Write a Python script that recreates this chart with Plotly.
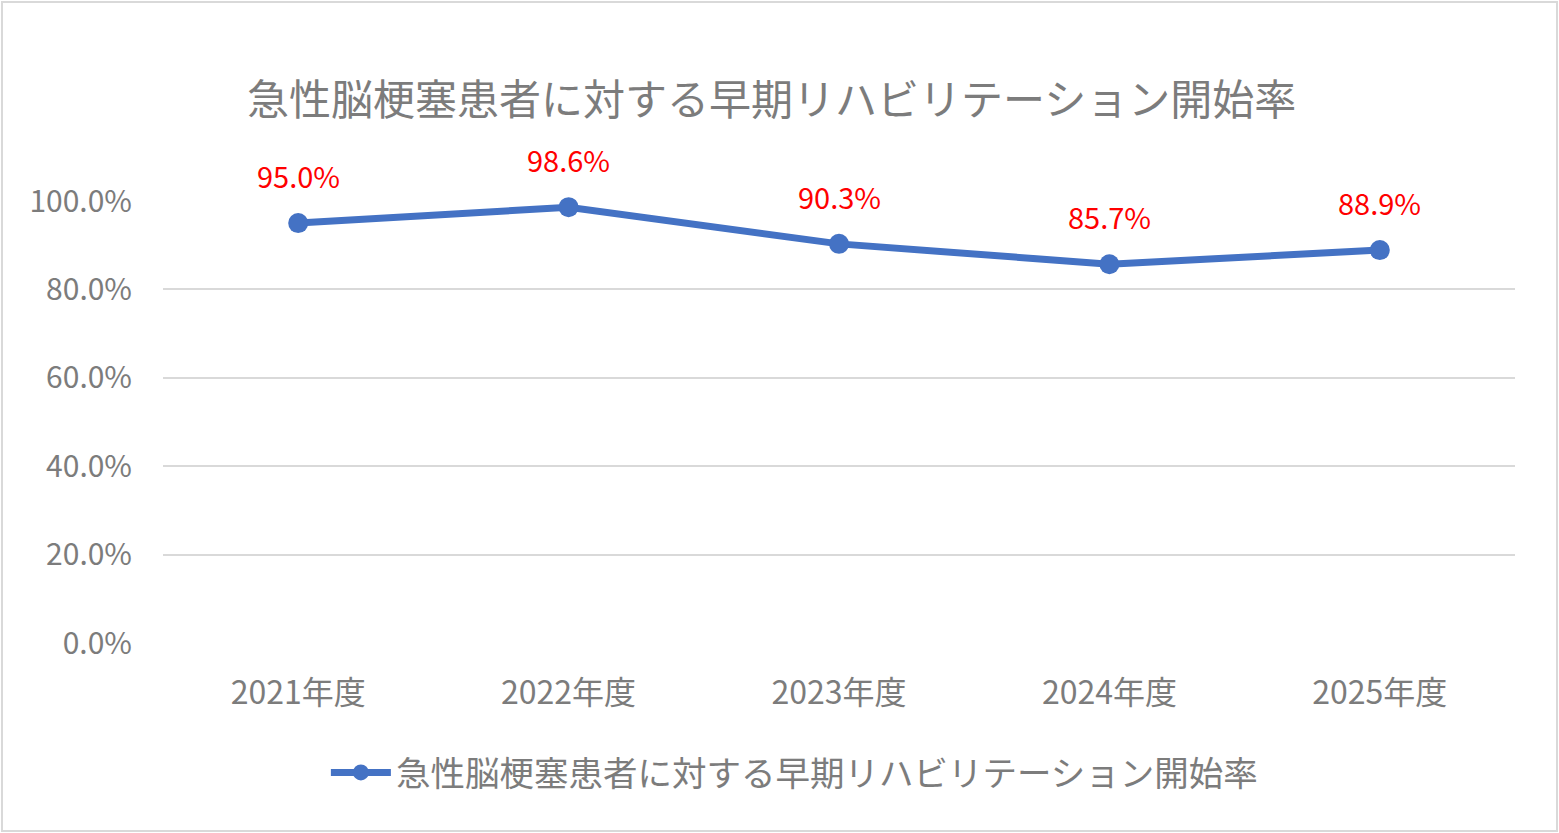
import plotly.graph_objects as go

years = ["2021年度", "2022年度", "2023年度", "2024年度", "2025年度"]
rates = [0.950, 0.986, 0.903, 0.857, 0.889]
rate_labels = ["95.0%", "98.6%", "90.3%", "85.7%", "88.9%"]

series_name = "急性脳梗塞患者に対する早期リハビリテーション開始率"
font_jp = "Noto Sans CJK JP"
grey = '#7c7c7c'

W, H = 1559, 833
L, R, T, B = 163, 44, 201, 190
pw, ph = W - L - R, H - T - B

fig = go.Figure()
fig.add_trace(go.Scatter(
    x=years, y=rates,
    mode='lines+markers',
    name=series_name,
    line=dict(color='#4472C4', width=7),
    marker=dict(color='#4472C4', size=20),
    cliponaxis=False,
))

# red data labels sit well above the points
for yr, v, lab in zip(years, rates, rate_labels):
    fig.add_annotation(x=yr, y=v, text=lab, showarrow=False, yshift=48,
                       font=dict(color='#FF0000', size=29, family=font_jp))

fig.update_layout(
    width=W, height=H,
    margin=dict(l=L, r=R, t=T, b=B),
    paper_bgcolor='white',
    plot_bgcolor='white',
    font=dict(family=font_jp, color=grey),
    title=dict(text=series_name, x=0.495, xanchor='center', y=0.88, yanchor='middle',
               font=dict(size=42, color=grey, family=font_jp)),
    xaxis=dict(range=[-0.5, 4.5], showgrid=False, zeroline=False, showline=False,
               ticks='', tickfont=dict(size=32, color=grey), ticklabelstandoff=28),
    yaxis=dict(range=[0, 1.0], dtick=0.2, tickformat='.1%', showgrid=True,
               gridcolor='#D9D9D9', gridwidth=2, zeroline=False, showline=False,
               tickfont=dict(size=30, color=grey), ticklabelstandoff=30),
    showlegend=True,
    legend=dict(orientation='h', x=0.467, xanchor='center', y=-0.293, yanchor='middle',
                font=dict(size=34.5, color=grey), itemwidth=60),
)
# outer chart border
fig.add_shape(type='rect', xref='paper', yref='paper',
              x0=-(L - 2) / pw, x1=1 + (R - 2) / pw,
              y0=-(B - 2) / ph, y1=1 + (T - 2) / ph,
              line=dict(color='#D9D9D9', width=2))

fig.write_html("out.html", config={'displayModeBar': False},
               post_script="document.body.style.margin='0';")
